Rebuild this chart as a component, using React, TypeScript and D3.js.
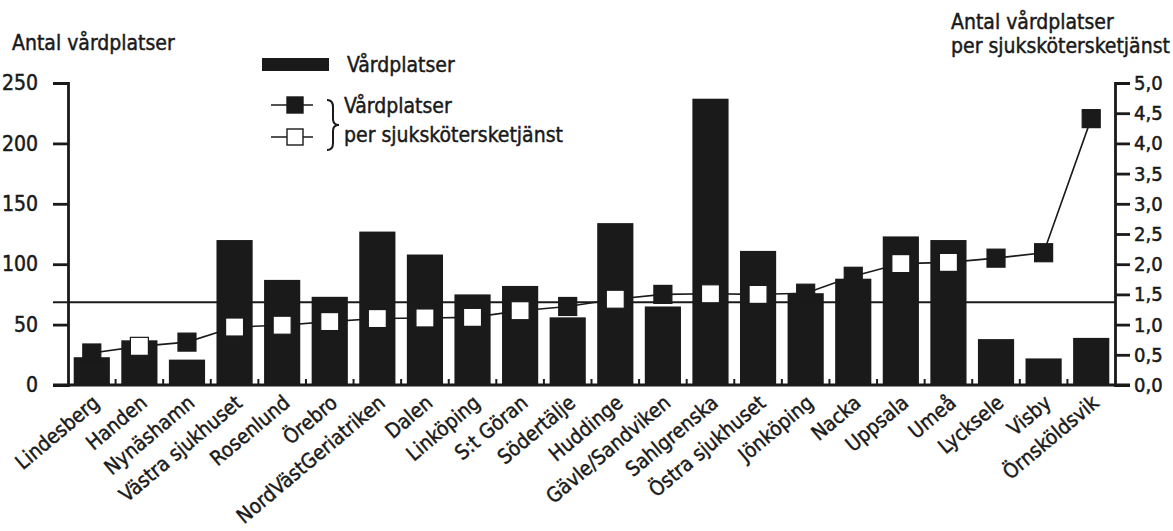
import React, { useEffect, useRef } from 'react';
import * as d3 from 'd3';

// Sjukhus / kliniker
const hospitals = [
  'Lindesberg', 'Handen', 'Nynäshamn', 'Västra sjukhuset', 'Rosenlund', 'Örebro',
  'NordVästGeriatriken', 'Dalen', 'Linköping', 'S:t Göran', 'Södertälje', 'Huddinge',
  'Gävle/Sandviken', 'Sahlgrenska', 'Östra sjukhuset', 'Jönköping', 'Nacka', 'Uppsala',
  'Umeå', 'Lycksele', 'Visby', 'Örnsköldsvik',
];

// Antal vårdplatser (vänster axel)
const beds = [23, 37, 21, 120, 87, 73, 127, 108, 75, 82, 56, 134, 65, 237, 111, 76, 88, 123, 120, 38, 22, 39];

// Vårdplatser per sjukskötersketjänst (höger axel)
const bedsPerNurse = [
  0.53, 0.64, 0.71, 0.96, 0.99, 1.05, 1.10, 1.11, 1.12, 1.23, 1.30, 1.42,
  1.50, 1.51, 1.50, 1.52, 1.80, 2.01, 2.03, 2.10, 2.19, 4.41,
];

const referenceRatio = 1.37;

const leftTicks = [0, 50, 100, 150, 200, 250];
const rightTicks = [0, 0.5, 1, 1.5, 2, 2.5, 3, 3.5, 4, 4.5, 5];

const leftTitle = 'Antal vårdplatser';
const rightTitle = ['Antal vårdplatser', 'per sjukskötersketjänst'];
const barLegend = 'Vårdplatser';
const lineLegend = ['Vårdplatser', 'per sjukskötersketjänst'];

export default function App() {
  const chartRef = useRef<SVGSVGElement | null>(null);

  const width = 1173;
  const height = 531;
  const ink = '#1a1a1a';
  const font = "'Liberation Sans Narrow', 'DejaVu Sans Condensed', 'Arial Narrow', sans-serif";

  useEffect(() => {
    const svg = d3.select(chartRef.current);
    svg.selectAll('*').remove();

    const data = hospitals.map((h, i) => ({ name: h, beds: beds[i], ratio: bedsPerNurse[i] }));

    const x = d3.scaleBand()
      .domain(hospitals)
      .range([68, 1115])
      .paddingInner(0.24)
      .paddingOuter(0.12);
    const yLeft = d3.scaleLinear().domain([0, 250]).range([385, 83]);
    const yRight = d3.scaleLinear().domain([0, 5]).range([385, 83]);
    const cx = (d: string) => (x(d) as number) + x.bandwidth() / 2;

    const g = svg.append('g').style('font-family', font).style('fill', ink);

    // Staplar
    g.selectAll('rect.bar')
      .data(data)
      .enter()
      .append('rect')
      .attr('class', 'bar')
      .attr('x', d => x(d.name) as number)
      .attr('y', d => yLeft(d.beds))
      .attr('width', x.bandwidth())
      .attr('height', d => yLeft(0) - yLeft(d.beds))
      .style('fill', ink);

    // Referenslinje
    g.append('line')
      .attr('x1', 53).attr('x2', 1115)
      .attr('y1', yRight(referenceRatio)).attr('y2', yRight(referenceRatio))
      .style('stroke', ink).style('stroke-width', 2.2);

    // Vänster axel
    const leftAxis = g.append('g')
      .attr('transform', 'translate(68,0)')
      .call(d3.axisLeft(yLeft).tickValues(leftTicks).tickSize(15).tickPadding(15).tickFormat(d3.format('d')));
    leftAxis.selectAll('path, line').style('stroke', ink).style('stroke-width', 2.8);
    leftAxis.selectAll('text')
      .style('font-size', '21px').style('font-family', font).style('fill', ink)
      .style('stroke', ink).style('stroke-width', 0.5);

    // Höger axel
    const rightAxis = g.append('g')
      .attr('transform', 'translate(1115,0)')
      .call(d3.axisRight(yRight).tickValues(rightTicks).tickSize(15).tickPadding(4)
        .tickFormat(d => (d as number).toFixed(1).replace('.', ',')));
    rightAxis.selectAll('path, line').style('stroke', ink).style('stroke-width', 2.8);
    rightAxis.selectAll('text')
      .style('font-size', '20px').style('font-family', font).style('fill', ink)
      .style('stroke', ink).style('stroke-width', 0.5);

    // Bottenlinje med små streck mellan staplarna
    g.append('line')
      .attr('x1', 53).attr('x2', 1130)
      .attr('y1', 385).attr('y2', 385)
      .style('stroke', ink).style('stroke-width', 3);
    g.selectAll('line.sep')
      .data(hospitals.slice(0, -1))
      .enter()
      .append('line')
      .attr('class', 'sep')
      .attr('x1', d => (x(d) as number) + x.bandwidth() + x.step() * 0.12)
      .attr('x2', d => (x(d) as number) + x.bandwidth() + x.step() * 0.12)
      .attr('y1', 385).attr('y2', 379)
      .style('stroke', ink).style('stroke-width', 2);

    // Linje
    const line = d3.line<{ name: string; ratio: number }>()
      .x(d => cx(d.name))
      .y(d => yRight(d.ratio));
    g.append('path')
      .datum(data)
      .attr('d', line)
      .style('fill', 'none')
      .style('stroke', ink)
      .style('stroke-width', 1.6);

    // Markörer: vita inne i stapeln, svarta utanför
    const m = 18;
    g.selectAll('rect.marker')
      .data(data)
      .enter()
      .append('rect')
      .attr('class', 'marker')
      .attr('x', d => cx(d.name) - m / 2)
      .attr('y', d => yRight(d.ratio) - m / 2)
      .attr('width', m).attr('height', m)
      .style('fill', d => (yRight(d.ratio) > yLeft(d.beds) + 2 ? '#ffffff' : ink))
      .style('stroke', ink)
      .style('stroke-width', 1.2);

    const textStroke = (sel: any) => sel.style('stroke', ink).style('stroke-width', 0.45);

    // Kategorietiketter
    g.selectAll('text.cat')
      .data(hospitals)
      .enter()
      .append('text')
      .attr('class', 'cat')
      .attr('text-anchor', 'end')
      .attr('transform', d => `translate(${cx(d) + 9},${405}) rotate(-40)`)
      .style('font-size', '20.5px')
      .call(textStroke)
      .text(d => d);

    // Axeltitlar
    g.append('text').attr('x', 12).attr('y', 50).style('font-size', '21px').call(textStroke).text(leftTitle);
    g.selectAll('text.rtitle')
      .data(rightTitle)
      .enter()
      .append('text')
      .attr('class', 'rtitle')
      .attr('x', 951)
      .attr('y', (d, i) => 29 + i * 24)
      .style('font-size', '21px')
      .call(textStroke)
      .text(d => d);

    // Förklaring
    g.append('rect').attr('x', 262).attr('y', 58).attr('width', 67).attr('height', 13).style('fill', ink);
    g.append('text').attr('x', 347).attr('y', 72).style('font-size', '21px').call(textStroke).text(barLegend);

    [105, 137].forEach((ly, i) => {
      g.append('line')
        .attr('x1', 271).attr('x2', 313).attr('y1', ly).attr('y2', ly)
        .style('stroke', ink).style('stroke-width', 1.6);
      g.append('rect')
        .attr('x', 287).attr('y', ly - 8).attr('width', 16).attr('height', 16)
        .style('fill', i === 0 ? ink : '#ffffff')
        .style('stroke', ink).style('stroke-width', 1.4);
    });
    g.append('path')
      .attr('d', 'M327,100 Q333,100 333,107 L333,119 Q333,125 339,125 Q333,125 333,131 L333,143 Q333,150 327,150')
      .style('fill', 'none').style('stroke', ink).style('stroke-width', 2);
    g.selectAll('text.lleg')
      .data(lineLegend)
      .enter()
      .append('text')
      .attr('class', 'lleg')
      .attr('x', 344)
      .attr('y', (d, i) => 113 + i * 29)
      .style('font-size', '21px')
      .call(textStroke)
      .text(d => d);
  });

  return (
    <svg ref={chartRef}
      width={width}
      height={height}
      viewBox={`0 0 ${width} ${height}`}
      style={{ position: 'absolute', left: 0, top: 0, background: '#ffffff' }}>
    </svg>
  );
}
